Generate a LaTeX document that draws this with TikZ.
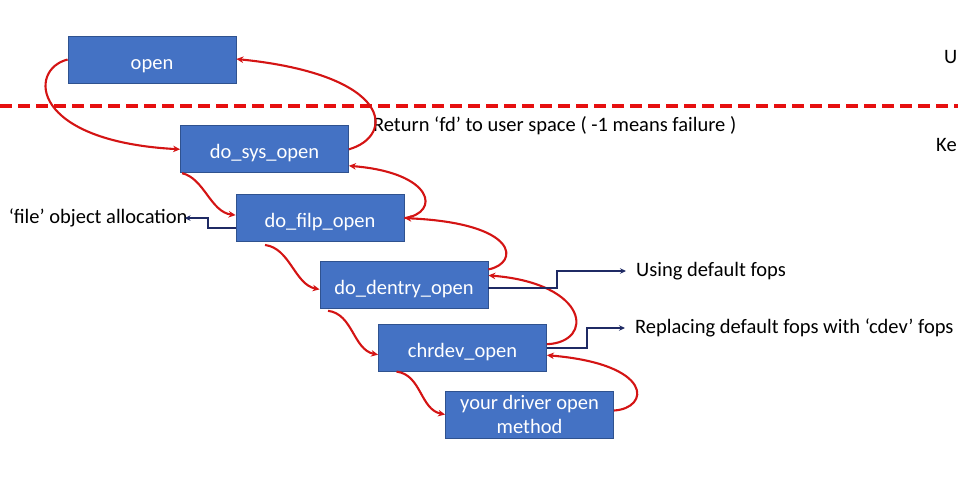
\documentclass[tikz,border=0pt]{standalone}
\usepackage{fontspec}
\setmainfont{Carlito}
\usetikzlibrary{arrows.meta,positioning}
\definecolor{boxblue}{HTML}{4472C4}
\definecolor{boxedge}{HTML}{2F528F}
\definecolor{callred}{HTML}{D41414}
\definecolor{splitred}{HTML}{E60F0F}
\definecolor{navy}{HTML}{1F2A64}

\begin{document}
\begin{tikzpicture}[
    x=1pt, y=1pt,
    box/.style={draw=boxedge, line width=0.8pt, fill=boxblue, text=white, align=center,
                minimum width=168pt, minimum height=47pt, inner sep=0pt,
                text height=20pt, text depth=1pt,
                font=\fontsize{20.5}{24}\selectfont},
    lbl/.style={inner sep=0pt, font=\fontsize{20.5}{24}\selectfont},
    call/.style={-{Stealth[length=7pt,width=6.5pt]}, draw=callred, line width=2.1pt},
    side/.style={-{Stealth[length=6pt,width=5.5pt]}, draw=navy, line width=2.1pt}
]
  \useasboundingbox (0,0) rectangle (958,-480);

  % user / kernel split
  \coordinate (divl) at (0,-106);
  \coordinate (divr) at (958,-106);
  \draw[splitred, line width=3.4pt, dash pattern=on 12pt off 6pt] (divl) -- (divr);
  \node[lbl, anchor=west] (userlbl) at (944,-57) {U};
  \node[lbl, anchor=west] (kernlbl) at (936,-145) {Ke};

  \node[box] (open) at (152,-59.5) {open};
  \node[box, below=42pt of open.south, anchor=north, xshift=112.5pt] (sysopen) {do\_sys\_open};
  \node[box, below=21pt of sysopen.south, anchor=north, xshift=55.5pt] (filpopen) {do\_filp\_open};
  \node[box, below=19pt of filpopen.south, anchor=north, xshift=84pt] (dentryopen) {do\_dentry\_open};
  \node[box, below=15pt of dentryopen.south, anchor=north, xshift=58.5pt] (chrdevopen) {chrdev\_open};
  \node[box, text height=, text depth=, below=19pt of chrdevopen.south, anchor=north, xshift=67pt] (drvopen) {your driver open\\method};

  \node[lbl, right=24pt of sysopen.north east, anchor=west] (retlbl) {Return ‘fd’ to user space ( -1 means failure )};
  \node[lbl, left=48pt of filpopen.west, anchor=east] (filelbl) {‘file’ object allocation};
  \node[lbl, anchor=west] (deflbl) at (636,-271) {Using default fops};
  \node[lbl, anchor=west] (cdevlbl) at (635,-328) {Replacing default fops with ‘cdev’ fops};

  % calls going down
  \draw[call] (open.west) .. controls +(-40,-10) and +(-150,8) .. (sysopen.west);
  \draw[call] ([xshift=2pt]sysopen.south west) .. controls +(22,-5) and +(-25,3) .. ([yshift=3pt]filpopen.west);
  \draw[call] ([xshift=-55pt,yshift=-3pt]filpopen.south) .. controls +(25,-3) and +(-25,5) .. ([yshift=-4.5pt]dentryopen.west);
  \draw[call] ([xshift=-76pt,yshift=-2pt]dentryopen.south) .. controls +(25,-3) and +(-25,5) .. ([yshift=-7pt]chrdevopen.west);
  \draw[call] ([xshift=-66pt]chrdevopen.south) .. controls +(25,-3) and +(-25,5) .. (drvopen.west);

  % returns going up
  \draw[call] ([yshift=4pt]drvopen.east) .. controls +(36,2) and +(108,-9) .. ([yshift=-7.5pt]chrdevopen.east);
  \draw[call] ([yshift=3.5pt]chrdevopen.east) .. controls +(48,2) and +(101,-8) .. ([yshift=9.5pt]dentryopen.east);
  \draw[call] ([yshift=15.5pt]dentryopen.east) .. controls +(31,6) and +(116,-5) .. (filpopen.east);
  \draw[call] (filpopen.east) .. controls +(36,5) and +(86,-7) .. ([yshift=-16.5pt]sysopen.east);
  \draw[call] (sysopen.east) .. controls +(46,13) and +(158,-16) .. ([yshift=0.5pt]open.east);

  % side notes
  \draw[side] ([yshift=-10pt]filpopen.west) -- +(-28,0) |- ([xshift=-3pt]filelbl.east);
  \draw[side] ([yshift=-3.5pt]dentryopen.east) -- +(69,0) |- ([xshift=-10pt]deflbl.west);
  \draw[side] ([yshift=-0.5pt]chrdevopen.east) -- +(40,0) |- ([xshift=-10pt]cdevlbl.west);
\end{tikzpicture}
\end{document}
